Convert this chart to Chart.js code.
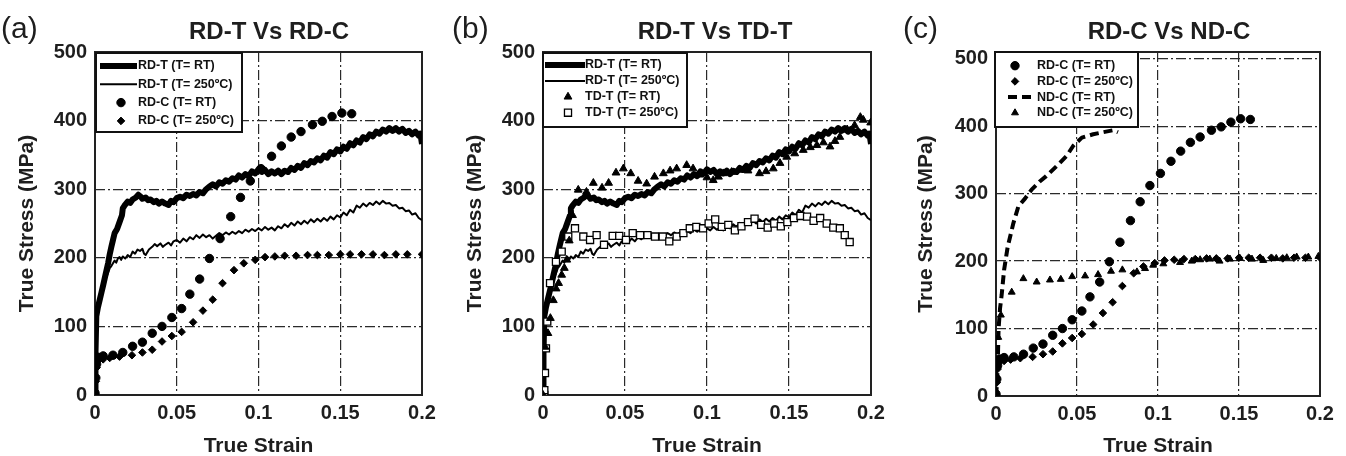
<!DOCTYPE html>
<html>
<head>
<meta charset="utf-8">
<title>True stress - true strain</title>
<script src="https://cdn.jsdelivr.net/npm/chart.js@4.4.1/dist/chart.umd.min.js"></script>
<style>
  body { margin: 0; background: #fff; }
  #wrap { position: relative; width: 1346px; height: 456px; }
  canvas { position: absolute; top: 0; }
</style>
</head>
<body>
<div id="wrap">
  <canvas id="panelA" width="449" height="456" style="left:0px"></canvas>
  <canvas id="panelB" width="449" height="456" style="left:449px"></canvas>
  <canvas id="panelC" width="448" height="456" style="left:898px"></canvas>
</div>
<script>
// tick labels
var strainTicks = [0, 0.05, 0.1, 0.15, 0.2];
var stressTicks = [0, 100, 200, 300, 400, 500];

// RD-T (T= RT) - tension, rolling direction, room temperature
var rdtRtX = [0, 0.0003, 0.0008, 0.0018, 0.003, 0.004, 0.005, 0.0065, 0.008, 0.009, 0.010, 0.011, 0.012, 0.0135, 0.015, 0.0165, 0.017, 0.018, 0.019, 0.020,
  0.0215, 0.023, 0.025, 0.0265, 0.028, 0.029, 0.031, 0.0325, 0.034, 0.036, 0.0375, 0.039, 0.041, 0.043, 0.045, 0.0465, 0.048, 0.050, 0.052, 0.054,
  0.056, 0.058, 0.060, 0.062, 0.064, 0.066, 0.068, 0.070, 0.072, 0.074, 0.076, 0.078, 0.080, 0.082, 0.084, 0.086, 0.088, 0.090, 0.092, 0.094,
  0.096, 0.098, 0.100, 0.102, 0.104, 0.106, 0.108, 0.110, 0.112, 0.114, 0.116, 0.118, 0.120, 0.122, 0.124, 0.126, 0.128, 0.130, 0.132, 0.134,
  0.136, 0.138, 0.140, 0.142, 0.144, 0.146, 0.148, 0.150, 0.152, 0.154, 0.156, 0.158, 0.160, 0.162, 0.164, 0.166, 0.168, 0.170, 0.172, 0.174,
  0.176, 0.178, 0.180, 0.182, 0.184, 0.186, 0.188, 0.190, 0.192, 0.194, 0.196, 0.198, 0.199, 0.2];
var rdtRtY = [0, 60, 115, 128, 140, 150, 160, 176, 192, 205, 216, 226, 236, 242, 252, 262, 272, 276, 279, 282,
  280, 285, 288, 292, 289, 286, 288, 284, 285, 281, 283, 279, 282, 279, 277, 283, 281, 287, 289, 287,
  292, 290, 293, 291, 296, 294, 300, 304, 307, 304, 310, 308, 313, 311, 316, 314, 320, 317, 322, 319,
  326, 323, 329, 325, 328, 322, 326, 323, 327, 322, 327, 325, 331, 328, 334, 331, 338, 335, 341, 339,
  345, 342, 349, 346, 354, 351, 358, 355, 362, 359, 367, 364, 371, 368, 376, 373, 380, 377, 384, 381,
  387, 384, 389, 385, 389, 384, 388, 382, 385, 380, 384, 378, 381, 366];

// RD-T (T= 250C)
var rdt250X = [0, 0.0005, 0.001, 0.002, 0.003, 0.004, 0.005, 0.006, 0.007, 0.008, 0.009, 0.010, 0.011, 0.012, 0.013, 0.014, 0.015, 0.016, 0.017, 0.0185,
  0.020, 0.0215, 0.023, 0.0245, 0.026, 0.0275, 0.029, 0.030, 0.031, 0.033, 0.035, 0.0365, 0.038, 0.040, 0.0415, 0.043, 0.045, 0.0465, 0.048, 0.050,
  0.052, 0.054, 0.056, 0.058, 0.060, 0.062, 0.064, 0.066, 0.068, 0.070, 0.072, 0.074, 0.076, 0.078, 0.080, 0.082, 0.084, 0.086, 0.088, 0.090,
  0.092, 0.094, 0.096, 0.098, 0.100, 0.102, 0.104, 0.106, 0.108, 0.110, 0.112, 0.114, 0.116, 0.118, 0.120, 0.122, 0.124, 0.126, 0.128, 0.130,
  0.132, 0.134, 0.136, 0.138, 0.140, 0.142, 0.144, 0.146, 0.148, 0.150, 0.152, 0.154, 0.156, 0.158, 0.160, 0.162, 0.164, 0.166, 0.168, 0.170,
  0.172, 0.174, 0.176, 0.178, 0.180, 0.182, 0.184, 0.186, 0.188, 0.190, 0.192, 0.194, 0.196, 0.198, 0.2];
var rdt250Y = [0, 60, 100, 125, 140, 150, 158, 166, 172, 178, 185, 188, 192, 196, 193, 199, 201, 197, 202, 199,
  204, 201, 209, 206, 212, 210, 213, 206, 204, 212, 216, 220, 217, 221, 216, 219, 222, 218, 224, 226,
  222, 228, 224, 230, 227, 233, 229, 234, 230, 233, 228, 232, 236, 233, 237, 234, 238, 235, 239, 236,
  241, 238, 242, 239, 243, 240, 245, 241, 244, 240, 246, 243, 249, 245, 251, 247, 253, 249, 254, 250,
  256, 252, 257, 253, 258, 254, 260, 256, 262, 259, 266, 262, 270, 266, 276, 273, 279, 275, 280, 277,
  282, 278, 283, 279, 280, 276, 277, 272, 273, 268, 269, 263, 265, 258, 255];

// RD-C (T= RT) - compression, rolling direction
var rdcRtX = [0, 0.0005, 0.001, 0.002, 0.005, 0.011, 0.017, 0.023, 0.029, 0.035, 0.041, 0.047, 0.053, 0.058, 0.064, 0.070, 0.0765, 0.083, 0.089, 0.095,
  0.1015, 0.108, 0.114, 0.120, 0.126, 0.133, 0.139, 0.145, 0.151, 0.157];
var rdcRtY = [3, 25, 45, 55, 57, 58, 62, 71, 77, 90, 100, 113, 126, 147, 169, 199, 228, 260, 288, 312,
  330, 348, 363, 376, 384, 394, 399, 406, 411, 410];

// RD-C (T= 250C)
var rdc250X = [0, 0.0005, 0.001, 0.002, 0.005, 0.009, 0.015, 0.0226, 0.029, 0.035, 0.041, 0.047, 0.053, 0.060, 0.066, 0.072, 0.078, 0.085, 0.091, 0.098,
  0.104, 0.110, 0.116, 0.123, 0.130, 0.136, 0.143, 0.150, 0.156, 0.163, 0.170, 0.177, 0.184, 0.191, 0.2];
var rdc250Y = [2, 20, 40, 50, 52, 54, 56, 58, 62, 66, 78, 86, 92, 106, 123, 139, 163, 182, 192, 197,
  201, 202, 203, 203, 204, 204, 204, 205, 205, 205, 205, 204, 205, 205, 205];

// TD-T (T= RT) - tension, transverse direction
var tdtRtX = [0, 0.0012, 0.003, 0.0045, 0.0063, 0.008, 0.0095, 0.0114, 0.013, 0.0145, 0.016, 0.018, 0.0215, 0.0265, 0.0307, 0.036, 0.040, 0.0445, 0.049, 0.0535,
  0.058, 0.0632, 0.068, 0.0734, 0.0775, 0.0815, 0.0876, 0.0915, 0.0957, 0.1, 0.1038, 0.107, 0.11, 0.115, 0.12, 0.125, 0.132, 0.136, 0.1404, 0.1445,
  0.1486, 0.1535, 0.1587, 0.163, 0.167, 0.171, 0.175, 0.178, 0.181, 0.1855, 0.190, 0.1935, 0.1953, 0.1998];
var tdtRtY = [0, 70, 90, 112, 138, 155, 163, 175, 185, 197, 225, 262, 299, 296, 309, 302, 309, 324, 330, 323,
  312, 308, 318, 323, 327, 330, 335, 330, 321, 317, 313, 318, 323, 325, 328, 327, 323, 326, 330, 338,
  347, 352, 357, 361, 364, 368, 362, 370, 376, 387, 393, 405, 401, 397];

// TD-T (T= 250C)
var tdt250X = [0.0008, 0.0008, 0.0012, 0.0018, 0.0026, 0.0043, 0.0079, 0.0114, 0.0154, 0.0195, 0.0246, 0.0287, 0.0327, 0.0372, 0.0425, 0.0465, 0.0506, 0.0547, 0.0592, 0.0637,
  0.0683, 0.073, 0.077, 0.0815, 0.0856, 0.0895, 0.0935, 0.0976, 0.101, 0.105, 0.109, 0.113, 0.117, 0.121, 0.125, 0.129, 0.133, 0.137, 0.141, 0.145,
  0.149, 0.153, 0.157, 0.161, 0.165, 0.169, 0.173, 0.177, 0.181, 0.184, 0.187];
var tdt250Y = [0, 7, 32, 68, 107, 163, 194, 209, 231, 243, 231, 226, 233, 219, 232, 232, 226, 236, 233, 233,
  231, 231, 224, 231, 236, 243, 245, 243, 250, 256, 245, 248, 240, 246, 252, 257, 248, 244, 250, 246,
  252, 258, 261, 260, 254, 258, 250, 244, 243, 233, 223];

// ND-C (T= RT) - compression, normal direction
var ndcRtX = [0, 0.0005, 0.001, 0.0016, 0.0025, 0.0035, 0.005, 0.0072, 0.0107, 0.0138, 0.018, 0.022, 0.027, 0.031, 0.0375, 0.0436, 0.0477, 0.053, 0.060, 0.066,
  0.0724, 0.0753];
var ndcRtY = [0, 15, 40, 100, 130, 150, 187, 221, 256, 281, 293, 306, 318, 326, 341, 356, 371, 383, 388, 391,
  394, 391];

// ND-C (T= 250C)
var ndc250X = [0, 0.0005, 0.0014, 0.003, 0.0097, 0.0169, 0.0251, 0.0333, 0.040, 0.047, 0.055, 0.063, 0.071, 0.078, 0.087, 0.092, 0.097, 0.1033, 0.1136, 0.1208,
  0.126, 0.132, 0.138, 0.1444, 0.1506, 0.158, 0.165, 0.173, 0.1795, 0.1856, 0.1928, 0.199];
var ndc250Y = [0, 30, 87, 120, 154, 174, 169, 172, 173, 177, 178, 180, 185, 187, 184, 189, 194, 196, 198, 200,
  202, 203, 200, 203, 204, 203, 201, 204, 205, 206, 206, 207];

var FONT = '"Liberation Sans", Arial, Helvetica, sans-serif';
var INK = '#1e1e1e';

function pts(xs, ys) {
  return xs.map(function(x, i) { return {x: x, y: ys[i]}; });
}

function lineSet(label, xs, ys, width, dash) {
  return {
    label: label, data: pts(xs, ys), showLine: true, order: 1,
    borderColor: '#000', borderWidth: width, borderDash: dash || [],
    borderJoinStyle: 'round', pointRadius: 0, tension: 0
  };
}

function markSet(label, xs, ys, style, radius, fill, border) {
  return {
    label: label, data: pts(xs, ys), showLine: false, order: 0,
    pointStyle: style, pointRadius: radius,
    pointBackgroundColor: fill, pointBorderColor: '#000', pointBorderWidth: border
  };
}

// frame around the plot area, title and panel tag
var panelFrame = {
  id: 'panelFrame',
  beforeDatasetsDraw: function(chart) {
    var a = chart.chartArea, ctx = chart.ctx;
    ctx.save();
    ctx.strokeStyle = '#222';
    ctx.lineWidth = 2;
    ctx.strokeRect(a.left, a.top, a.right - a.left, a.bottom - a.top);
    ctx.restore();
  },
  afterDraw: function(chart, args, o) {
    var ctx = chart.ctx;
    ctx.save();
    ctx.fillStyle = INK;
    ctx.textBaseline = 'middle';
    ctx.textAlign = 'center';
    ctx.font = 'bold 24px ' + FONT;
    ctx.fillText(o.title, o.titleX, o.titleY);
    ctx.textAlign = 'left';
    ctx.font = '30px ' + FONT;
    ctx.fillText(o.tag, o.tagX, o.tagY);
    ctx.restore();
  }
};

// boxed legend inside the plot
var boxLegend = {
  id: 'boxLegend',
  afterDatasetsDraw: function(chart, args, o) {
    var ctx = chart.ctx;
    ctx.save();
    ctx.fillStyle = '#fff';
    ctx.fillRect(o.x, o.y, o.w, o.h);
    ctx.strokeStyle = '#111';
    ctx.lineWidth = 2;
    ctx.strokeRect(o.x, o.y, o.w, o.h);
    ctx.font = 'bold 12.5px ' + FONT;
    ctx.textBaseline = 'middle';
    chart.data.datasets.forEach(function(ds, i) {
      var y = o.row0 + i * o.step;
      ctx.save();
      if (ds.showLine) {
        ctx.strokeStyle = ds.borderColor;
        ctx.lineWidth = ds.borderWidth;
        ctx.setLineDash(ds.borderDash);
        ctx.beginPath();
        ctx.moveTo(o.lineX0, y);
        ctx.lineTo(o.lineX1, y);
        ctx.stroke();
      } else {
        ctx.fillStyle = ds.pointBackgroundColor;
        ctx.strokeStyle = ds.pointBorderColor;
        ctx.lineWidth = ds.pointBorderWidth;
        Chart.helpers.drawPoint(ctx, {pointStyle: ds.pointStyle, radius: ds.pointRadius, borderWidth: ds.pointBorderWidth, rotation: 0}, o.markX, y);
      }
      ctx.restore();
      ctx.fillStyle = '#111';
      ctx.fillText(ds.label, o.textX, y);
    });
    ctx.restore();
  }
};

function makePanel(id, p) {
  var gridDash = [10, 3, 2, 3];
  return new Chart(document.getElementById(id), {
    type: 'scatter',
    data: { datasets: p.datasets },
    plugins: [panelFrame, boxLegend],
    options: {
      responsive: false,
      animation: false,
      events: [],
      layout: { padding: { left: 0, top: 52, right: p.padRight, bottom: 0 } },
      plugins: {
        legend: { display: false },
        tooltip: { enabled: false },
        panelFrame: p.frame,
        boxLegend: p.legend
      },
      scales: {
        x: {
          type: 'linear', min: 0, max: 0.2,
          afterBuildTicks: function(s) { s.ticks = strainTicks.map(function(v) { return {value: v}; }); },
          afterFit: function(s) { s.height = p.xHeight; },
          grid: { color: '#2a2a2a', lineWidth: 1.2, drawTicks: false },
          border: { display: false, dash: gridDash },
          ticks: { color: INK, padding: 6, font: { family: FONT, size: 20, weight: 'bold' },
                   callback: function(v) { return String(v); } },
          title: { display: true, text: 'True Strain', color: INK, padding: { top: 0, bottom: 0 },
                   font: { family: FONT, size: 21, weight: 'bold', lineHeight: 0.9 } }
        },
        y: {
          type: 'linear', min: 0, max: p.yMax,
          afterBuildTicks: function(s) { s.ticks = stressTicks.map(function(v) { return {value: v}; }); },
          afterFit: function(s) { s.width = p.yWidth; },
          grid: { color: '#2a2a2a', lineWidth: 1.2, drawTicks: false },
          border: { display: false, dash: gridDash },
          ticks: { color: INK, padding: 8, font: { family: FONT, size: 20, weight: 'bold' } },
          title: { display: true, text: 'True Stress (MPa)', color: INK, padding: { top: p.yTitlePad, bottom: 0 },
                   font: { family: FONT, size: 21, weight: 'bold', lineHeight: 0.9 } }
        }
      }
    }
  });
}

makePanel('panelA', {
  yMax: 500, yWidth: 95, xHeight: 61, padRight: 27, yTitlePad: 17.5,
  frame: { title: 'RD-T Vs RD-C', titleX: 269, titleY: 32, tag: '(a)', tagX: 1, tagY: 30 },
  legend: { x: 96, y: 53, w: 146, h: 79, row0: 66, step: 18.3, lineX0: 100, lineX1: 137, markX: 121, textX: 138 },
  datasets: [
    lineSet('RD-T (T= RT)', rdtRtX, rdtRtY, 6),
    lineSet('RD-T (T= 250\u00baC)', rdt250X, rdt250Y, 2),
    markSet('RD-C (T= RT)', rdcRtX, rdcRtY, 'circle', 4.2, '#000', 1),
    markSet('RD-C (T= 250\u00baC)', rdc250X, rdc250Y, 'rectRot', 3.8, '#000', 1)
  ]
});

makePanel('panelB', {
  yMax: 500, yWidth: 94, xHeight: 61, padRight: 27, yTitlePad: 17,
  frame: { title: 'RD-T Vs TD-T', titleX: 266, titleY: 32, tag: '(b)', tagX: 3, tagY: 30 },
  legend: { x: 94, y: 53, w: 144, h: 74, row0: 65, step: 15.9, lineX0: 96, lineX1: 136, markX: 119, textX: 136 },
  datasets: [
    lineSet('RD-T (T= RT)', rdtRtX, rdtRtY, 6),
    lineSet('RD-T (T= 250\u00baC)', rdt250X, rdt250Y, 2),
    markSet('TD-T (T= RT)', tdtRtX, tdtRtY, 'triangle', 4.5, '#000', 1),
    markSet('TD-T (T= 250\u00baC)', tdt250X, tdt250Y, 'rect', 5, '#fff', 1.3)
  ]
});

makePanel('panelC', {
  yMax: 510, yWidth: 98, xHeight: 60, padRight: 26, yTitlePad: 19,
  frame: { title: 'RD-C Vs ND-C', titleX: 271, titleY: 32, tag: '(c)', tagX: 5, tagY: 30 },
  legend: { x: 97, y: 52, w: 143, h: 75, row0: 65.7, step: 15.7, lineX0: 110, lineX1: 135, markX: 117, textX: 139 },
  datasets: [
    markSet('RD-C (T= RT)', rdcRtX, rdcRtY, 'circle', 4.2, '#000', 1),
    markSet('RD-C (T= 250\u00baC)', rdc250X, rdc250Y, 'rectRot', 3.8, '#000', 1),
    lineSet('ND-C (T= RT)', ndcRtX, ndcRtY, 4, [9, 5]),
    markSet('ND-C (T= 250\u00baC)', ndc250X, ndc250Y, 'triangle', 4, '#000', 1)
  ]
});
</script>
</body>
</html>
